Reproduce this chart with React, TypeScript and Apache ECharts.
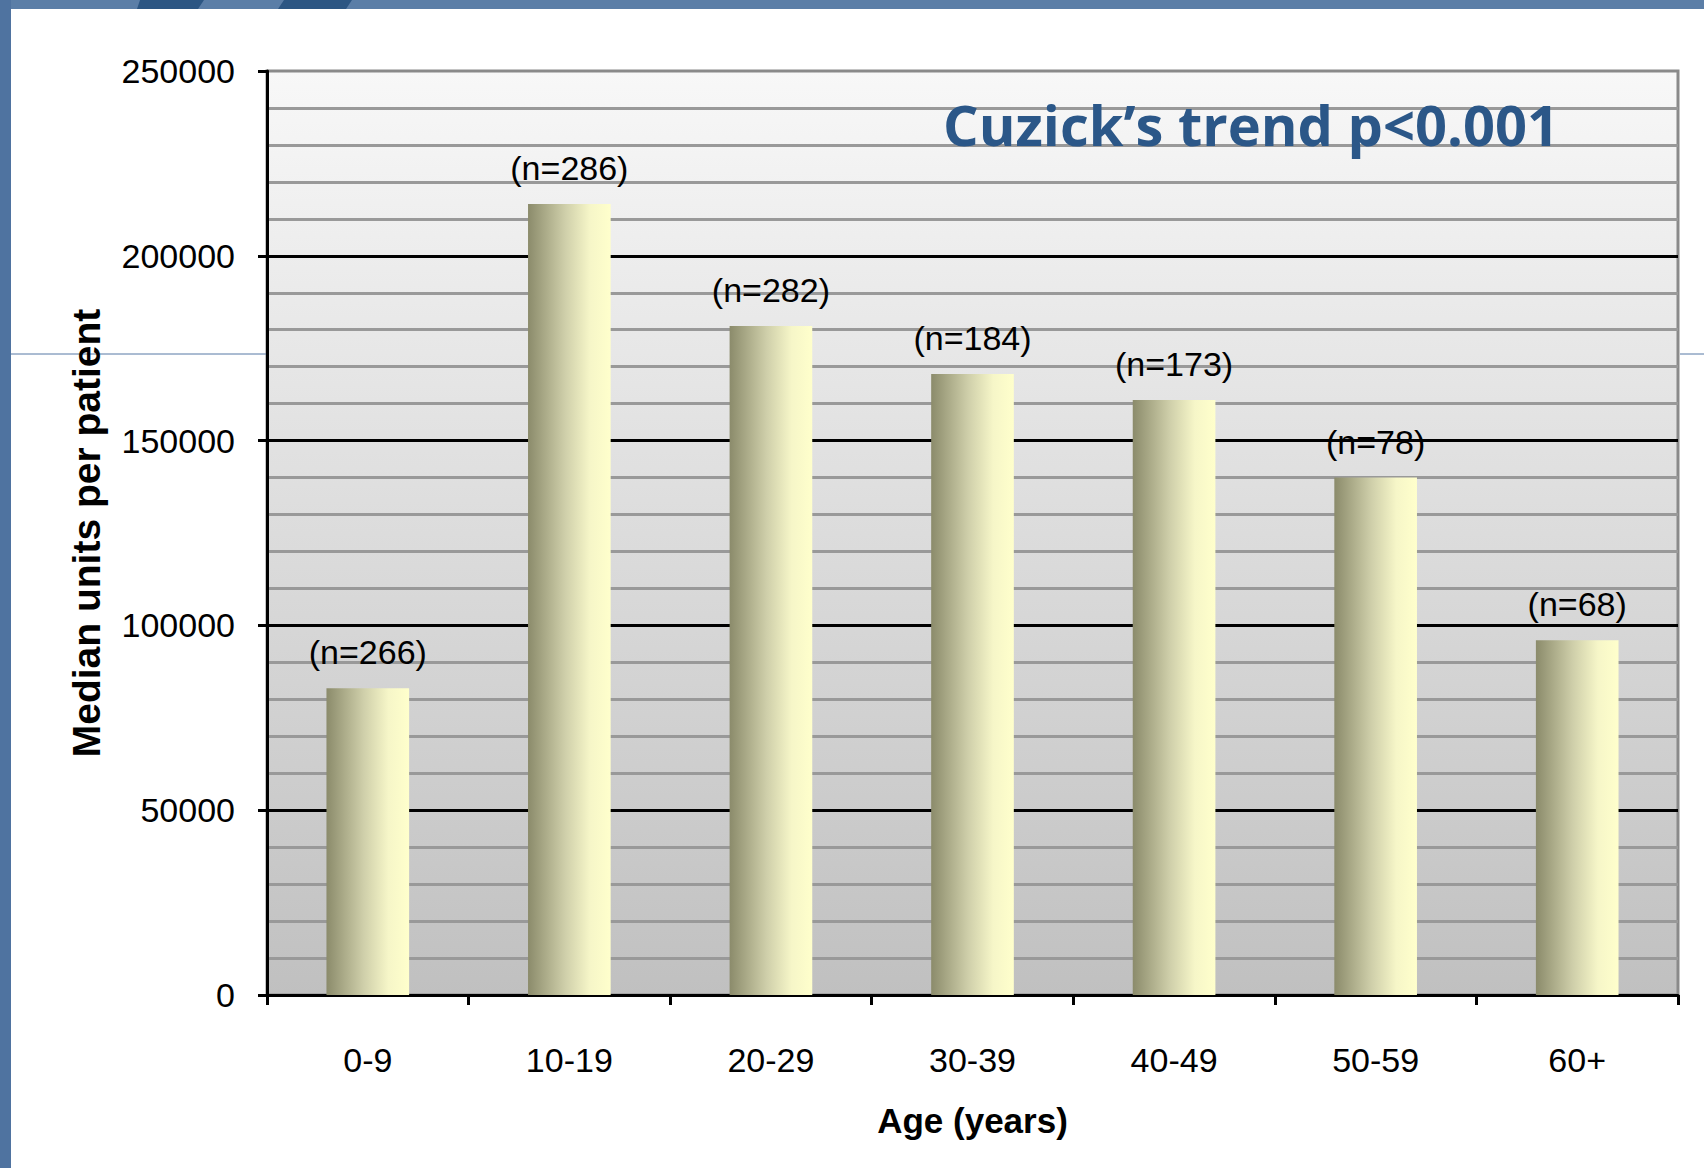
import React, { useEffect, useRef } from "react";
import * as echarts from "echarts";

const categories = ["0-9", "10-19", "20-29", "30-39", "40-49", "50-59", "60+"];
const medianUnits = [83000, 214000, 181000, 168000, 161000, 140000, 96000];
const nLabels = ["(n=266)", "(n=286)", "(n=282)", "(n=184)", "(n=173)", "(n=78)", "(n=68)"];
const yTicks = [0, 50000, 100000, 150000, 200000, 250000];
const titleText = "Cuzick\u2019s trend p<0.001";
const yName = "Median units per patient";
const xName = "Age (years)";

const NARROW = "'Liberation Sans Narrow', 'Arial Narrow', 'Liberation Sans', Arial, sans-serif";

export default function App() {
  const ref = useRef<HTMLDivElement>(null);
  useEffect(() => {
    document.body.style.margin = "0";
    const chart = echarts.init(ref.current!, null, { renderer: "svg" });
    chart.setOption({
      animation: false,
      backgroundColor: "#ffffff",
      title: {
        text: titleText,
        left: 943,
        top: 96,
        padding: 0,
        textStyle: {
          fontFamily: "'Open Sans', 'DejaVu Sans', sans-serif",
          fontWeight: "bold",
          fontSize: 56,
          color: "#2b5788",
        },
      },
      grid: {
        left: 267,
        right: 26,
        top: 71,
        bottom: 173,
        show: true,
        borderColor: "#8a8a8a",
        borderWidth: 3,
        backgroundColor: new echarts.graphic.LinearGradient(0, 0, 0, 1, [
          { offset: 0, color: "#f8f8f8" },
          { offset: 1, color: "#c0c0c0" },
        ]),
      },
      graphic: [
        { type: "rect", shape: { x: 0, y: 0, width: 1704, height: 9 }, style: { fill: "#5b7ea7" }, silent: true },
        { type: "rect", shape: { x: 0, y: 0, width: 11, height: 1168 }, style: { fill: "#4f73a0" }, silent: true },
        { type: "polygon", shape: { points: [[140, 0], [204, 0], [198, 9], [137, 9]] }, style: { fill: "#2c5683" }, silent: true },
        { type: "polygon", shape: { points: [[284, 0], [352, 0], [346, 9], [278, 9]] }, style: { fill: "#2c5683" }, silent: true },
        { type: "line", shape: { x1: 11, y1: 354, x2: 266, y2: 354 }, style: { stroke: "#5679a5", lineWidth: 1 }, silent: true },
        { type: "line", shape: { x1: 1680, y1: 354, x2: 1704, y2: 354 }, style: { stroke: "#5679a5", lineWidth: 1 }, silent: true },
      ],
      xAxis: {
        type: "category",
        data: categories,
        name: xName,
        nameLocation: "middle",
        nameGap: 108,
        nameMoveOverlap: false,
        nameTextStyle: { fontFamily: NARROW, fontWeight: "bold", fontSize: 35, color: "#000" },
        axisLine: { show: true, lineStyle: { color: "#000", width: 3 } },
        axisTick: { show: true, alignWithLabel: false, length: 10, lineStyle: { color: "#000", width: 3 } },
        axisLabel: { margin: 48, fontFamily: NARROW, fontSize: 34, color: "#000" },
        splitLine: { show: false },
      },
      yAxis: {
        type: "value",
        min: yTicks[0],
        max: yTicks[yTicks.length - 1],
        interval: yTicks[1] - yTicks[0],
        name: yName,
        nameLocation: "middle",
        nameRotate: 90,
        nameGap: 161,
        nameMoveOverlap: false,
        nameTextStyle: { fontFamily: NARROW, fontWeight: "bold", fontSize: 39, color: "#000" },
        axisLine: { show: true, lineStyle: { color: "#000", width: 3 } },
        axisTick: { show: true, length: 9, lineStyle: { color: "#000", width: 3 } },
        axisLabel: {
          margin: 32,
          fontFamily: NARROW,
          fontSize: 34,
          color: "#000",
          formatter: (v: number) => String(v),
        },
        splitLine: { show: true, showMaxLine: false, lineStyle: { color: "#000", width: 3 } },
        minorTick: { show: false, splitNumber: 5 },
        minorSplitLine: { show: true, lineStyle: { color: "#999999", width: 3 } },
      },
      series: [
        {
          type: "bar",
          data: medianUnits,
          barWidth: "41%",
          itemStyle: {
            color: new echarts.graphic.LinearGradient(0, 0, 1, 0, [
              { offset: 0, color: "#8b8b6b" },
              { offset: 0.45, color: "#cfcfaa" },
              { offset: 0.75, color: "#f6f6c8" },
              { offset: 1, color: "#ffffcc" },
            ]),
          },
          label: {
            show: true,
            position: "top",
            distance: 19,
            fontFamily: NARROW,
            fontSize: 34,
            color: "#000",
            formatter: (p: any) => nLabels[p.dataIndex],
          },
        },
      ],
    });
    return () => chart.dispose();
  }, []);
  return <div ref={ref} style={{ width: 1704, height: 1168 }} />;
}
